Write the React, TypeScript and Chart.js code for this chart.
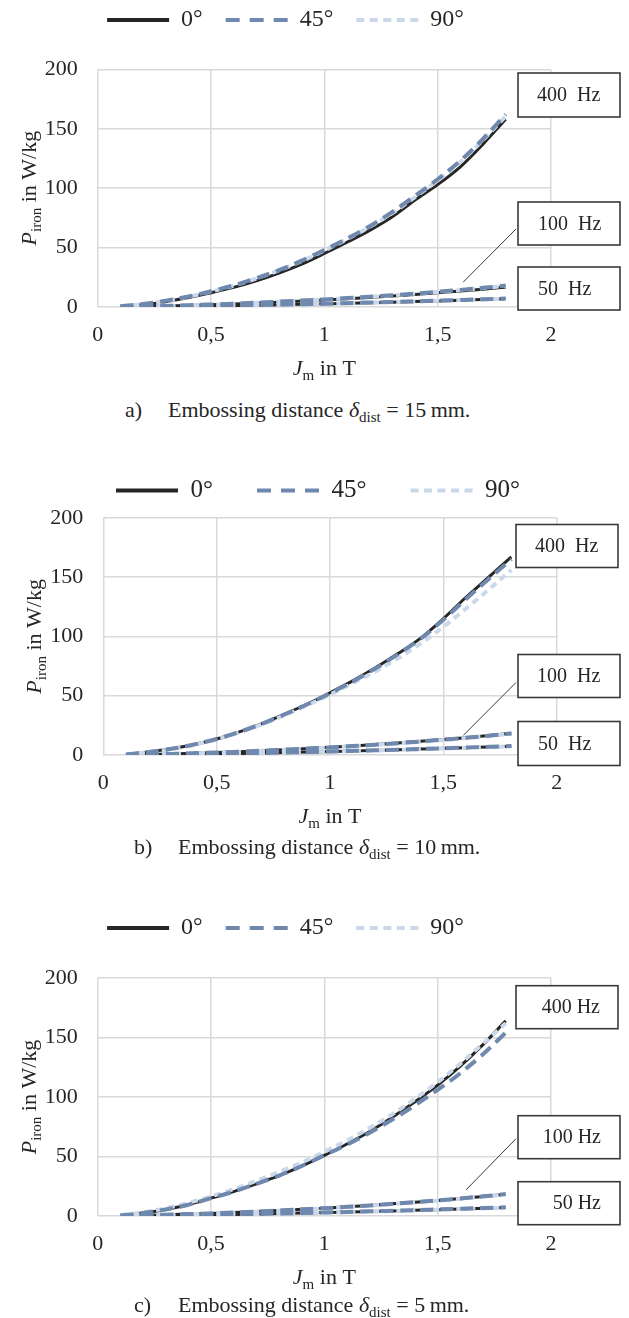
import React, { useEffect, useRef } from "react";
import { Chart, registerables } from "chart.js";

Chart.register(...registerables);

const FONT = "'Liberation Serif', 'Times New Roman', Times, serif";
const TEXT = "#262626";
const GRID = "#d9d9d9";

// ---------- data ----------
const J_VALUES = [0.1, 0.2, 0.3, 0.4, 0.5, 0.6, 0.7, 0.8, 0.9, 1.0, 1.1, 1.2, 1.3, 1.4, 1.5, 1.6, 1.7, 1.8];
const X_TICK_LABELS = ["0", "0,5", "1", "1,5", "2"];
const Y_TICK_LABELS = ["0", "50", "100", "150", "200"];
const ANGLES = ["0°", "45°", "90°"];
const FREQ_LABELS_AB = ["400  Hz", "100  Hz", "50  Hz"];
const FREQ_LABELS_C = ["400 Hz", "100 Hz", "50 Hz"];
const CAPTION_LETTERS = ["a)", "b)", "c)"];
const CAPTION_DIST = ["15", "10", "5"];

// a) embossing distance 15 mm
const A_400_0 = [0.5, 2.0, 4.5, 8.0, 12.0, 16.5, 22.0, 28.5, 36.0, 45.0, 54.5, 64.5, 76.0, 90.0, 103.0, 118.0, 137.0, 158.0];
const A_400_45 = [0.6, 2.5, 5.2, 8.8, 13.2, 18.2, 24.2, 31.0, 39.0, 48.0, 57.5, 68.0, 80.0, 93.5, 107.5, 123.0, 141.5, 162.0];
const A_400_90 = [0.6, 2.4, 5.0, 8.6, 13.0, 18.0, 24.0, 30.8, 38.6, 47.5, 57.0, 67.5, 79.0, 92.5, 106.5, 122.0, 140.5, 160.5];
const A_100_0 = [0.1, 0.4, 0.8, 1.3, 1.9, 2.6, 3.3, 4.1, 5.0, 5.9, 6.9, 8.0, 9.2, 10.5, 11.9, 13.4, 15.0, 16.7];
const A_100_45 = [0.1, 0.4, 0.9, 1.5, 2.1, 2.8, 3.6, 4.5, 5.4, 6.4, 7.5, 8.7, 9.9, 11.3, 12.8, 14.4, 16.1, 18.0];
const A_100_90 = [0.1, 0.4, 0.9, 1.4, 2.0, 2.7, 3.5, 4.4, 5.3, 6.3, 7.4, 8.5, 9.8, 11.1, 12.6, 14.2, 15.9, 17.7];
const A_50_0 = [0.05, 0.2, 0.4, 0.6, 0.9, 1.2, 1.5, 1.9, 2.3, 2.7, 3.1, 3.6, 4.1, 4.6, 5.1, 5.7, 6.3, 6.9];
const A_50_45 = [0.05, 0.2, 0.4, 0.65, 0.95, 1.25, 1.6, 2.0, 2.4, 2.8, 3.25, 3.7, 4.2, 4.75, 5.3, 5.9, 6.5, 7.2];
const A_50_90 = [0.05, 0.2, 0.4, 0.6, 0.9, 1.2, 1.6, 1.9, 2.3, 2.8, 3.2, 3.7, 4.2, 4.7, 5.2, 5.8, 6.4, 7.0];

// b) embossing distance 10 mm
const B_400_0 = [0.5, 2.5, 5.2, 8.8, 13.5, 19.5, 26.5, 34.5, 43.0, 52.5, 62.5, 73.5, 85.5, 98.5, 115.0, 133.0, 150.0, 167.0];
const B_400_45 = [0.5, 2.5, 5.2, 8.8, 13.5, 19.5, 26.3, 34.2, 42.8, 52.0, 62.0, 73.0, 85.0, 98.0, 114.0, 131.5, 148.5, 165.0];
const B_400_90 = [0.5, 2.4, 5.0, 8.6, 13.2, 19.0, 25.8, 33.5, 42.0, 51.0, 60.5, 70.5, 81.5, 94.0, 108.0, 123.5, 139.5, 156.0];
const B_100_0 = [0.1, 0.4, 0.9, 1.5, 2.1, 2.8, 3.6, 4.5, 5.5, 6.5, 7.6, 8.8, 10.1, 11.5, 13.0, 14.6, 16.4, 18.4];
const B_100_45 = [0.1, 0.4, 0.9, 1.5, 2.1, 2.8, 3.6, 4.5, 5.4, 6.4, 7.5, 8.7, 10.0, 11.4, 12.9, 14.5, 16.3, 18.2];
const B_100_90 = [0.1, 0.4, 0.9, 1.4, 2.0, 2.7, 3.5, 4.4, 5.3, 6.3, 7.4, 8.6, 9.8, 11.2, 12.7, 14.3, 16.0, 17.9];
const B_50_0 = [0.05, 0.2, 0.4, 0.7, 1.0, 1.3, 1.7, 2.1, 2.5, 2.9, 3.4, 3.9, 4.4, 5.0, 5.6, 6.2, 6.8, 7.4];
const B_50_45 = [0.05, 0.2, 0.4, 0.7, 1.0, 1.3, 1.7, 2.1, 2.5, 3.0, 3.5, 4.0, 4.5, 5.1, 5.7, 6.3, 6.9, 7.5];
const B_50_90 = [0.05, 0.2, 0.4, 0.7, 1.0, 1.3, 1.6, 2.0, 2.4, 2.9, 3.3, 3.8, 4.3, 4.9, 5.5, 6.1, 6.7, 7.3];

// c) embossing distance 5 mm
const C_400_0 = [0.5, 2.5, 5.5, 9.5, 15.0, 20.5, 27.0, 34.0, 42.0, 51.0, 60.5, 71.0, 83.0, 96.0, 110.0, 126.0, 144.0, 164.0];
const C_400_45 = [0.5, 2.5, 5.5, 9.5, 15.0, 20.5, 27.0, 34.0, 42.0, 51.0, 60.0, 70.0, 81.0, 93.0, 106.0, 120.0, 136.0, 154.0];
const C_400_90 = [0.8, 3.0, 6.5, 11.0, 16.5, 22.5, 29.5, 37.0, 45.0, 54.0, 63.5, 74.0, 85.5, 98.5, 112.5, 128.0, 145.0, 162.0];
const C_100_0 = [0.1, 0.5, 1.0, 1.6, 2.2, 2.9, 3.7, 4.6, 5.6, 6.6, 7.7, 8.9, 10.2, 11.6, 13.1, 14.7, 16.4, 18.3];
const C_100_45 = [0.1, 0.5, 1.0, 1.6, 2.2, 2.9, 3.7, 4.6, 5.6, 6.6, 7.7, 8.9, 10.2, 11.6, 13.1, 14.7, 16.5, 18.4];
const C_100_90 = [0.1, 0.5, 1.0, 1.5, 2.1, 2.8, 3.6, 4.5, 5.4, 6.4, 7.5, 8.7, 10.0, 11.4, 12.9, 14.5, 16.2, 18.0];
const C_50_0 = [0.05, 0.2, 0.4, 0.7, 1.0, 1.3, 1.7, 2.1, 2.5, 2.9, 3.3, 3.8, 4.3, 4.8, 5.3, 5.9, 6.5, 7.1];
const C_50_45 = [0.05, 0.2, 0.4, 0.7, 1.0, 1.3, 1.7, 2.1, 2.5, 2.9, 3.4, 3.9, 4.4, 4.9, 5.5, 6.1, 6.7, 7.3];
const C_50_90 = [0.05, 0.2, 0.4, 0.7, 1.0, 1.3, 1.6, 2.0, 2.4, 2.8, 3.2, 3.7, 4.2, 4.7, 5.2, 5.8, 6.4, 7.0];

// leader-line targets (J, P) pointing at the 100 Hz curves
const LEADER_TARGETS = [
  [1.613, 21.0],
  [1.588, 16.5],
  [1.625, 21.9],
];

// ---------- styles ----------
const LINE_COLORS = ["#262626", "#6f88ae", "#cbd8ea"];
const LINE_WIDTHS = [3, 4, 4];
const LINE_DASH = [[], [13, 7], [7, 5]];
const LEGEND_DASH = [[], [14, 10], [8, 5.5]];
const DRAW_ORDER = [2, 0, 1];

type Box = { x: number; y: number; w: number; h: number; tx: number };
type PanelCfg = {
  idx: number;
  canvasTop: number;
  canvasH: number;
  padL: number;
  padR: number;
  yAxisW: number;
  rightW: number;
  legendPad: number;
  legendFont: number;
  legendGap: number;
  yTitleX: number;
  groups: number[][][];
  labels: string[];
  labelAlign: "left" | "right";
  boxes: Box[];
  leaderFrom: [number, number];
  captionY: number;
  captionLetterX: number;
  captionTextX: number;
};

const PANELS: PanelCfg[] = [
  {
    idx: 0,
    canvasTop: -15,
    canvasH: 412,
    padL: 20,
    padR: 78,
    yAxisW: 77.7,
    rightW: 0,
    legendPad: 23,
    legendFont: 24,
    legendGap: 27.3,
    yTitleX: 28,
    groups: [
      [A_400_0, A_400_45, A_400_90],
      [A_100_0, A_100_45, A_100_90],
      [A_50_0, A_50_45, A_50_90],
    ],
    labels: FREQ_LABELS_AB,
    labelAlign: "left",
    boxes: [
      { x: 518, y: 73, w: 102, h: 44, tx: 537 },
      { x: 518, y: 202, w: 102, h: 43, tx: 538 },
      { x: 518, y: 267, w: 102, h: 43, tx: 538 },
    ],
    leaderFrom: [516, 229],
    captionY: 410,
    captionLetterX: 125,
    captionTextX: 168,
  },
  {
    idx: 1,
    canvasTop: 433.5,
    canvasH: 411,
    padL: 45,
    padR: 38,
    yAxisW: 58.3,
    rightW: 34.3,
    legendPad: 44,
    legendFont: 25,
    legendGap: 4.8,
    yTitleX: 33,
    groups: [
      [B_400_0, B_400_45, B_400_90],
      [B_100_0, B_100_45, B_100_90],
      [B_50_0, B_50_45, B_50_90],
    ],
    labels: FREQ_LABELS_AB,
    labelAlign: "left",
    boxes: [
      { x: 516, y: 524, w: 102, h: 43, tx: 535 },
      { x: 518, y: 654, w: 102, h: 43, tx: 537 },
      { x: 518, y: 721, w: 102, h: 44, tx: 538 },
    ],
    leaderFrom: [516, 682],
    captionY: 847,
    captionLetterX: 134,
    captionTextX: 178,
  },
  {
    idx: 2,
    canvasTop: 893.3,
    canvasH: 413,
    padL: 20,
    padR: 78,
    yAxisW: 77.7,
    rightW: 0,
    legendPad: 23,
    legendFont: 24,
    legendGap: 28,
    yTitleX: 28,
    groups: [
      [C_400_0, C_400_45, C_400_90],
      [C_100_0, C_100_45, C_100_90],
      [C_50_0, C_50_45, C_50_90],
    ],
    labels: FREQ_LABELS_C,
    labelAlign: "right",
    boxes: [
      { x: 516, y: 986, w: 102, h: 43, tx: 600 },
      { x: 518, y: 1116, w: 102, h: 43, tx: 601 },
      { x: 518, y: 1182, w: 102, h: 43, tx: 601 },
    ],
    leaderFrom: [516, 1139],
    captionY: 1305,
    captionLetterX: 134,
    captionTextX: 178,
  },
];

type Run = { text: string; font: string; dy: number };

function drawRuns(ctx: CanvasRenderingContext2D, runs: Run[], cx: number, baseline: number) {
  let total = 0;
  const widths = runs.map((r) => {
    ctx.font = r.font;
    const w = ctx.measureText(r.text).width;
    total += w;
    return w;
  });
  let x = cx - total / 2;
  ctx.textAlign = "left";
  ctx.textBaseline = "alphabetic";
  runs.forEach((r, i) => {
    ctx.font = r.font;
    ctx.fillText(r.text, x, baseline + r.dy);
    x += widths[i];
  });
}

function makeOverlay(p: PanelCfg) {
  return {
    id: "overlay" + p.idx,
    afterDraw(chart: any) {
      const { ctx, chartArea, scales } = chart;
      const top = p.canvasTop;
      ctx.save();
      ctx.fillStyle = TEXT;

      // x axis title
      const cx = (chartArea.left + chartArea.right) / 2;
      drawRuns(
        ctx,
        [
          { text: "J", font: `italic 22px ${FONT}`, dy: 0 },
          { text: "m", font: `15px ${FONT}`, dy: 5 },
          { text: " in T", font: `22px ${FONT}`, dy: 0 },
        ],
        cx,
        chartArea.bottom + 60.5 + 7.5
      );

      // y axis title (rotated)
      ctx.save();
      ctx.translate(p.yTitleX, (chartArea.top + chartArea.bottom) / 2);
      ctx.rotate(-Math.PI / 2);
      drawRuns(
        ctx,
        [
          { text: "P", font: `italic 22px ${FONT}`, dy: 0 },
          { text: "iron", font: `15px ${FONT}`, dy: 5 },
          { text: " in W/kg", font: `22px ${FONT}`, dy: 0 },
        ],
        0,
        7.5
      );
      ctx.restore();

      // leader line
      const [tj, tp] = LEADER_TARGETS[p.idx];
      ctx.beginPath();
      ctx.moveTo(p.leaderFrom[0], p.leaderFrom[1] - top);
      ctx.lineTo(scales.x.getPixelForValue(tj), scales.y.getPixelForValue(tp));
      ctx.lineWidth = 1;
      ctx.strokeStyle = "#3a3a3a";
      ctx.stroke();

      // label boxes
      p.boxes.forEach((b, i) => {
        const y = b.y - top;
        ctx.fillStyle = "#ffffff";
        ctx.fillRect(b.x, y, b.w, b.h);
        ctx.lineWidth = 1.6;
        ctx.strokeStyle = "#3a3a3a";
        ctx.strokeRect(b.x, y, b.w, b.h);
        ctx.fillStyle = TEXT;
        ctx.font = `20px ${FONT}`;
        ctx.textAlign = p.labelAlign;
        ctx.textBaseline = "middle";
        ctx.fillText(p.labels[i], b.tx, y + b.h / 2 + 1);
      });
      ctx.restore();
    },
  };
}

function buildConfig(p: PanelCfg): any {
  const datasets: any[] = [];
  p.groups.forEach((group, g) => {
    group.forEach((values, a) => {
      datasets.push({
        label: `${ANGLES[a]} ${g}`,
        data: J_VALUES.map((j, k) => ({ x: j, y: values[k] })),
        borderColor: LINE_COLORS[a],
        backgroundColor: LINE_COLORS[a],
        borderWidth: LINE_WIDTHS[a],
        borderDash: LINE_DASH[a],
        borderCapStyle: "butt",
        pointRadius: 0,
        pointHoverRadius: 0,
        cubicInterpolationMode: "monotone",
        fill: false,
        order: DRAW_ORDER[a],
      });
    });
  });

  const scales: any = {
    x: {
      type: "linear",
      min: 0,
      max: 2,
      afterFit: (s: any) => {
        s.height = 40;
      },
      grid: { color: GRID, lineWidth: 1.5, drawTicks: false },
      border: { display: false },
      ticks: {
        stepSize: 0.5,
        padding: 15,
        color: TEXT,
        autoSkip: false,
        maxRotation: 0,
        font: { family: FONT, size: 22 },
        callback: (_v: any, i: number) => X_TICK_LABELS[i],
      },
    },
    y: {
      type: "linear",
      min: 0,
      max: 200,
      afterFit: (s: any) => {
        s.width = p.yAxisW;
      },
      grid: { color: GRID, lineWidth: 1.5, drawTicks: false },
      border: { display: false },
      ticks: {
        stepSize: 50,
        padding: 20,
        color: TEXT,
        font: { family: FONT, size: 22 },
        callback: (_v: any, i: number) => Y_TICK_LABELS[i],
      },
    },
  };
  if (p.rightW > 0) {
    scales.y2 = {
      type: "linear",
      position: "right",
      min: 0,
      max: 200,
      afterFit: (s: any) => {
        s.width = p.rightW;
      },
      grid: { display: false },
      border: { display: false },
      ticks: { display: false },
    };
  }

  return {
    type: "line",
    data: { datasets },
    options: {
      responsive: false,
      animation: false,
      events: [],
      layout: { padding: { left: p.padL, right: p.padR, top: 0, bottom: 50 } },
      scales,
      plugins: {
        tooltip: { enabled: false },
        // invisible spacer between the legend and the plot area
        title: {
          display: true,
          text: " ",
          weight: 500,
          color: "rgba(0,0,0,0)",
          font: { size: 1, lineHeight: 1 },
          padding: { top: p.legendGap - 1, bottom: 0 },
        },
        legend: {
          display: true,
          position: "top",
          align: "center",
          labels: {
            usePointStyle: true,
            pointStyleWidth: 62,
            padding: p.legendPad,
            color: TEXT,
            font: { family: FONT, size: p.legendFont },
            generateLabels: () =>
              ANGLES.map((t, i) => ({
                text: t,
                fillStyle: LINE_COLORS[i],
                strokeStyle: LINE_COLORS[i],
                lineWidth: 4,
                lineDash: LEGEND_DASH[i],
                lineCap: "butt",
                pointStyle: "line",
                fontColor: TEXT,
                hidden: false,
                datasetIndex: i,
              })),
          },
        },
      },
    },
    plugins: [makeOverlay(p)],
  };
}

function PanelChart({ p }: { p: PanelCfg }) {
  const ref = useRef<HTMLCanvasElement>(null);
  useEffect(() => {
    if (!ref.current) return;
    const chart = new Chart(ref.current, buildConfig(p));
    return () => chart.destroy();
  }, [p]);
  return (
    <canvas
      ref={ref}
      width={629}
      height={p.canvasH}
      style={{ position: "absolute", left: 0, top: p.canvasTop, width: 629, height: p.canvasH }}
    />
  );
}

function Caption({ p }: { p: PanelCfg }) {
  const base: React.CSSProperties = {
    position: "absolute",
    top: p.captionY - 13,
    height: 26,
    lineHeight: "26px",
    fontFamily: FONT,
    fontSize: 22,
    color: TEXT,
    whiteSpace: "nowrap",
  };
  return (
    <>
      <div style={{ ...base, left: p.captionLetterX }}>{CAPTION_LETTERS[p.idx]}</div>
      <div style={{ ...base, left: p.captionTextX }}>
        Embossing distance <i>δ</i>
        <span style={{ fontSize: 15, position: "relative", top: 5 }}>dist</span> = {CAPTION_DIST[p.idx]}
        {"\u2009"}mm.
      </div>
    </>
  );
}

export default function App() {
  return (
    <div
      style={{
        position: "absolute",
        left: 0,
        top: 0,
        width: 629,
        height: 1318,
        overflow: "hidden",
        background: "#ffffff",
      }}
    >
      {PANELS.map((p) => (
        <PanelChart key={"c" + p.idx} p={p} />
      ))}
      {PANELS.map((p) => (
        <Caption key={"t" + p.idx} p={p} />
      ))}
    </div>
  );
}
